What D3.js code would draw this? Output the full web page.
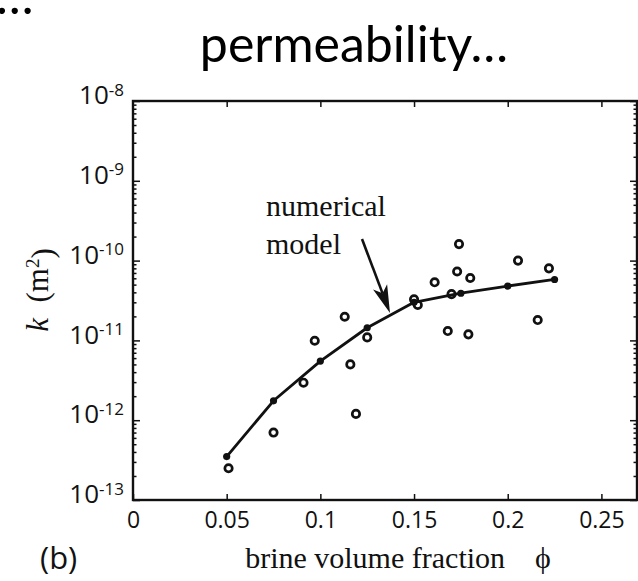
<!DOCTYPE html>
<html>
  <head>
    <meta http-equiv="Content-type" content="text/html; charset=utf-8"/>
    <title>permeability</title>
    <script src="https://d3js.org/d3.v7.min.js"></script>
    <style>
      body { margin: 0; background: #fff; }
      svg { display: block; }
      .tick text { font-family: "Open Sans", sans-serif; font-size: 23px; fill: #111; }
      .ylab .tick text { font-size: 26px; }
      .serif { font-family: "Liberation Serif", "DejaVu Serif", serif; fill: #111; }
    </style>
  </head>
  <body>
    <svg width="638" height="581"></svg>
    <script>
      // tick values
      var xTicks = [0, 0.05, 0.1, 0.15, 0.2, 0.25];
      var yExponents = [-8, -9, -10, -11, -12, -13];

      // numerical model (line with dots)
      var modelPhi = [0.05, 0.075, 0.1, 0.125, 0.15, 0.175, 0.2, 0.225];
      var modelK = [3.5e-13, 1.75e-12, 5.5e-12, 1.44e-11, 3.0e-11, 3.9e-11, 4.8e-11, 5.8e-11];

      // measurements (open circles)
      var obsPhi = [0.051, 0.075, 0.091, 0.097, 0.113, 0.116, 0.119, 0.125, 0.150, 0.152,
                    0.161, 0.168, 0.170, 0.173, 0.174, 0.179, 0.180, 0.2055, 0.216, 0.222];
      var obsK = [2.5e-13, 7.0e-13, 2.95e-12, 9.9e-12, 1.98e-11, 5.0e-12, 1.2e-12, 1.09e-11, 3.27e-11, 2.78e-11,
                  5.35e-11, 1.31e-11, 3.8e-11, 7.3e-11, 1.61e-10, 1.19e-11, 6.05e-11, 1.0e-10, 1.8e-11, 8.0e-11];

      var svg = d3.select("svg");
      var plotLeft = 133, plotRight = 637, plotTop = 101, plotBottom = 500;

      var x = d3.scaleLinear().domain([0, 0.269]).range([plotLeft, plotRight]);
      var y = d3.scaleLog().domain([1e-13, 1e-8]).range([plotBottom, plotTop]);

      var minor = [];
      yExponents.forEach(function(e) {
        if (e === -8) return;
        for (var m = 2; m <= 9; m++) minor.push(m * Math.pow(10, e));
      });
      var major = yExponents.map(function(e) { return Math.pow(10, e); });

      function styleAxis(g) {
        g.select(".domain").remove();
        g.selectAll(".tick line").attr("stroke", "#111").attr("stroke-width", 1.5);
      }

      // bottom + top x axes (ticks point inward)
      svg.append("g")
          .attr("transform", "translate(0," + plotBottom + ")")
          .call(d3.axisBottom(x).tickValues(xTicks).tickSize(-6).tickPadding(12)
                .tickFormat(function(d) { return d === 0 ? "0" : String(d); }))
          .call(styleAxis);
      svg.append("g")
          .attr("transform", "translate(0," + plotTop + ")")
          .call(d3.axisTop(x).tickValues(xTicks.slice(1)).tickSize(-6).tickFormat(""))
          .call(styleAxis);

      // left axis with 10^n labels
      var yl = svg.append("g")
          .attr("class", "ylab")
          .attr("transform", "translate(" + plotLeft + ",0)")
          .call(d3.axisLeft(y).tickValues(major).tickSize(-7).tickFormat(""))
          .call(styleAxis);
      yl.selectAll(".tick text")
          .attr("x", -9)
          .attr("dy", "0.1em")
          .attr("text-anchor", "end")
          .each(function(d) {
            var t = d3.select(this);
            t.append("tspan").text("10");
            t.append("tspan").attr("dy", "-0.5em").attr("font-size", "17px")
              .text(String(Math.round(Math.log10(d))));
          });
      svg.append("g")
          .attr("transform", "translate(" + plotLeft + ",0)")
          .call(d3.axisLeft(y).tickValues(minor).tickSize(-3.5).tickFormat(""))
          .call(styleAxis);

      // right axis
      svg.append("g")
          .attr("transform", "translate(" + plotRight + ",0)")
          .call(d3.axisRight(y).tickValues(major).tickSize(-7).tickFormat(""))
          .call(styleAxis);
      svg.append("g")
          .attr("transform", "translate(" + plotRight + ",0)")
          .call(d3.axisRight(y).tickValues(minor).tickSize(-3.5).tickFormat(""))
          .call(styleAxis);

      // frame
      svg.append("rect")
          .attr("x", plotLeft).attr("y", plotTop)
          .attr("width", plotRight - plotLeft).attr("height", plotBottom - plotTop)
          .attr("fill", "none").attr("stroke", "#111").attr("stroke-width", 2.4);

      // model line
      var modelData = modelPhi.map(function(p, i) { return [p, modelK[i]]; });
      svg.append("path")
          .datum(modelData)
          .attr("fill", "none")
          .attr("stroke", "#111")
          .attr("stroke-width", 2.8)
          .attr("stroke-linejoin", "round")
          .attr("d", d3.line().x(function(d) { return x(d[0]); }).y(function(d) { return y(d[1]); }));
      svg.selectAll(".mdot")
          .data(modelData)
          .enter().append("circle")
          .attr("cx", function(d) { return x(d[0]); })
          .attr("cy", function(d) { return y(d[1]); })
          .attr("r", 3.6)
          .attr("fill", "#111");

      // observations
      var obsData = obsPhi.map(function(p, i) { return [p, obsK[i]]; });
      svg.selectAll(".obs")
          .data(obsData)
          .enter().append("circle")
          .attr("cx", function(d) { return x(d[0]); })
          .attr("cy", function(d) { return y(d[1]); })
          .attr("r", 3.7)
          .attr("fill", "none")
          .attr("stroke", "#111")
          .attr("stroke-width", 2.7);

      // annotation
      svg.append("text").attr("class", "serif").attr("x", 266).attr("y", 216)
          .attr("font-size", "30px").text("numerical");
      svg.append("text").attr("class", "serif").attr("x", 266).attr("y", 254)
          .attr("font-size", "30px").text("model");

      // arrow: shaft plus barbed head
      var a0 = [362, 239], a1 = [390, 313];
      var dx = a1[0] - a0[0], dy = a1[1] - a0[1], len = Math.sqrt(dx * dx + dy * dy);
      var ux = dx / len, uy = dy / len, nx = -uy, ny = ux;
      var headLen = 28, headHalf = 7.5, notch = 21;
      var bx = a1[0] - headLen * ux, by = a1[1] - headLen * uy;
      var cx = a1[0] - notch * ux, cy = a1[1] - notch * uy;
      svg.append("line")
          .attr("x1", a0[0]).attr("y1", a0[1]).attr("x2", cx).attr("y2", cy)
          .attr("stroke", "#111").attr("stroke-width", 2.6);
      svg.append("path")
          .attr("d", "M" + a1[0] + "," + a1[1] +
                     "L" + (bx + headHalf * nx) + "," + (by + headHalf * ny) +
                     "L" + cx + "," + cy +
                     "L" + (bx - headHalf * nx) + "," + (by - headHalf * ny) + "Z")
          .attr("fill", "#111");

      // axis titles
      svg.append("text").attr("class", "serif")
          .attr("transform", "translate(48,290) rotate(-90)")
          .attr("text-anchor", "middle").attr("font-size", "31px")
          .call(function(t) {
            t.append("tspan").attr("font-style", "italic").text("k");
            t.append("tspan").text("\u2002(m");
            t.append("tspan").attr("dy", "-0.45em").attr("font-size", "19px").text("2");
            t.append("tspan").attr("dy", "0.45em").text(")");
          });
      svg.append("text").attr("class", "serif")
          .attr("x", 398).attr("y", 568)
          .attr("text-anchor", "middle").attr("font-size", "30px")
          .text("brine volume fraction\u2003\u03d5");

      // panel label and slide text
      svg.append("text").attr("x", 40).attr("y", 569)
          .attr("font-family", "'Open Sans', sans-serif").attr("font-size", "31px").attr("fill", "#111")
          .text("(b)");
      svg.append("text").attr("x", 354).attr("y", 62)
          .attr("text-anchor", "middle")
          .attr("font-family", "Lato, sans-serif").attr("font-size", "50px").attr("fill", "#000")
          .text("permeability\u2026");
      svg.append("text").attr("x", -4).attr("y", 14)
          .attr("font-family", "Lato, sans-serif").attr("font-size", "50px").attr("fill", "#000")
          .text("\u2026");
    </script>
  </body>
</html>
